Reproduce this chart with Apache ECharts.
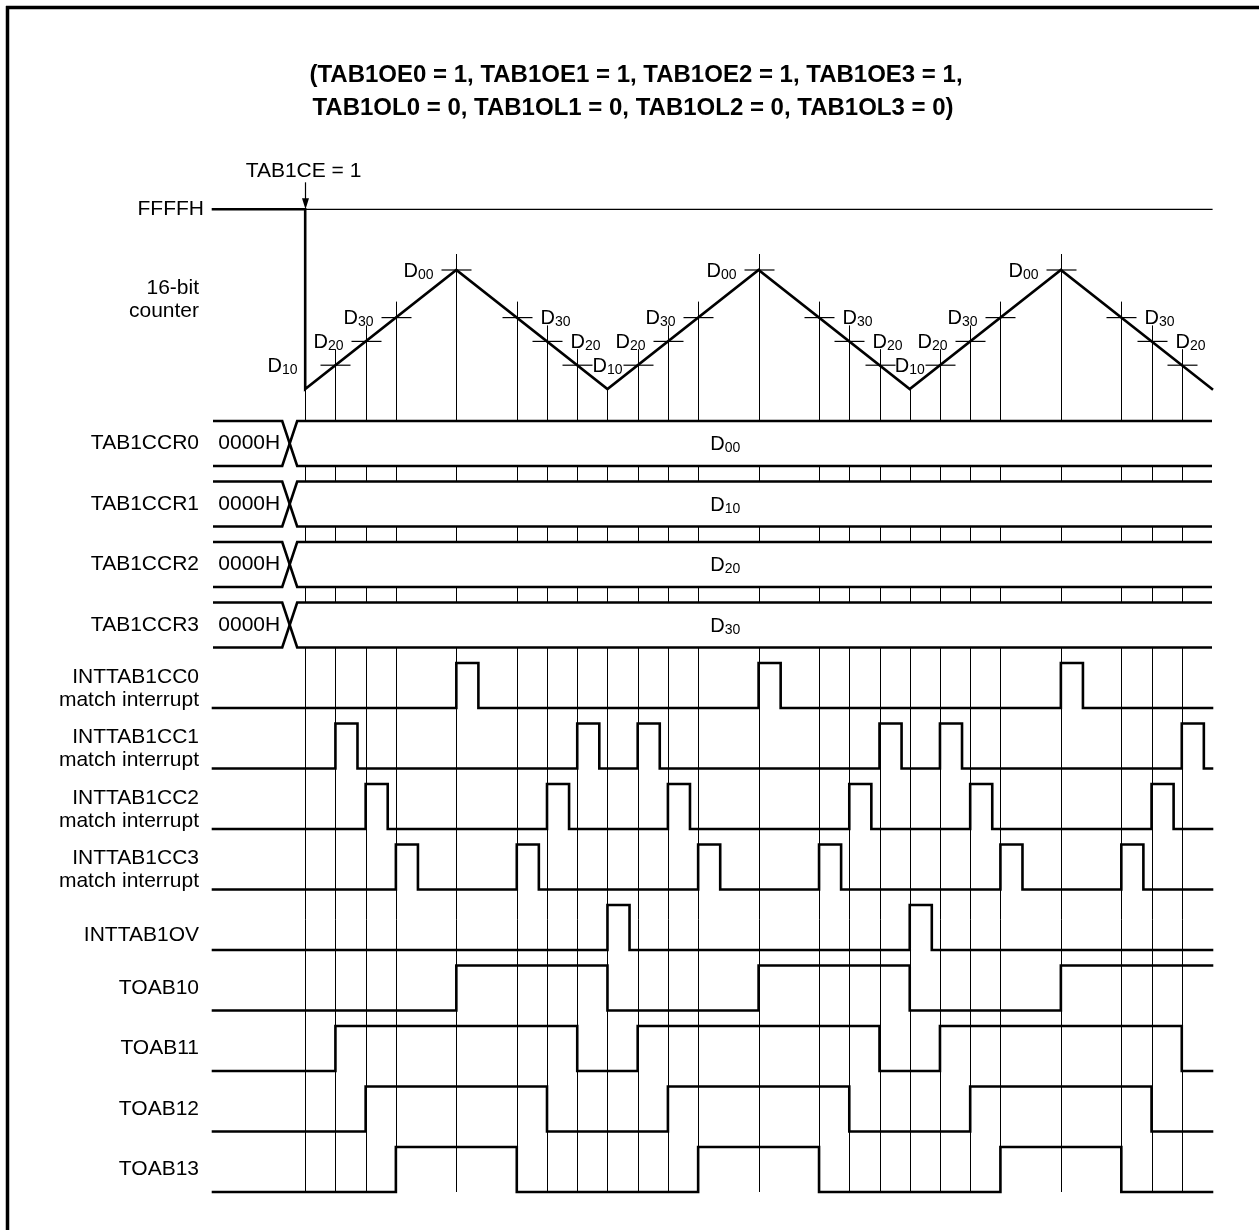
<!DOCTYPE html>
<html><head><meta charset="utf-8">
<script src="https://cdn.jsdelivr.net/npm/echarts@6/dist/echarts.min.js"></script>
<style>html,body{margin:0;padding:0;background:#fff}#c{width:1259px;height:1230px}</style>
</head><body><div id="c"></div>
<script>
// ================= DATA =================
const titleLines = ['(TAB1OE0 = 1, TAB1OE1 = 1, TAB1OE2 = 1, TAB1OE3 = 1,', 'TAB1OL0 = 0, TAB1OL1 = 0, TAB1OL2 = 0, TAB1OL3 = 0)'];
const startLabel = 'TAB1CE = 1';
const counterMaxLabel = 'FFFFH';
const counterLabel = ['16-bit', 'counter'];
// counter triangle vertices: time units, counter level (D10=1, D20=2, D30=3, D00=5)
const counterT = [0, 5, 10, 15, 20, 25, 30];
const counterV = [0, 5, 0, 5, 0, 5, 0];
const counterFFFF = 7.55;
const regLevel = { '00': 5, '10': 1, '20': 2, '30': 3 };
const matchT   = [1, 2, 3, 5, 7, 8, 9, 11, 12, 13, 15, 17, 18, 19, 21, 22, 23, 25, 27, 28, 29];
const matchReg = ['10','20','30','00','30','20','10','10','20','30','00','30','20','10','10','20','30','00','30','20','10'];
const matchLabelSide = ['far','L','L','L','R','R','mid','none','L','L','L','R','R','mid','none','L','L','L','R','R','none'];
const underflowT = [10, 20];
const registerNames = ['TAB1CCR0', 'TAB1CCR1', 'TAB1CCR2', 'TAB1CCR3'];
const registerInit = '0000H';
const registerValues = ['00', '10', '20', '30'];
const signalNames = [
  ['INTTAB1CC0', 'match interrupt'],
  ['INTTAB1CC1', 'match interrupt'],
  ['INTTAB1CC2', 'match interrupt'],
  ['INTTAB1CC3', 'match interrupt'],
  ['INTTAB1OV'],
  ['TOAB10'], ['TOAB11'], ['TOAB12'], ['TOAB13']
];
const cc0Pulses = [5, 15, 25];
const cc1Pulses = [1, 9, 11, 19, 21, 29];
const cc2Pulses = [2, 8, 12, 18, 22, 28];
const cc3Pulses = [3, 7, 13, 17, 23, 27];
const ovPulses  = [10, 20];
const toab10Edges = [5, 10, 15, 20, 25];
const toab11Edges = [1, 9, 11, 19, 21, 29];
const toab12Edges = [2, 8, 12, 18, 22, 28];
const toab13Edges = [3, 7, 13, 17, 23, 27];

// ================= LAYOUT =================
const T_MIN = -3.05, T_MAX = 30;
const FONT = "'Liberation Sans', Arial, Helvetica, sans-serif";
const FS = 21;
const CNT0 = 389, CNT_K = 23.8;          // counter level -> layout y
const BUS_TOP0 = 421, BUS_H = 45, PITCH = 60.5;
const SIG_BASE0 = 708, SIG_H = 45;
const PW = 0.73;                          // interrupt pulse width (time units)
const BUS_XA = -0.76, BUS_XB = -0.265;
const cy = v => CNT0 - v * CNT_K;
const busTop = i => BUS_TOP0 + i * PITCH;
const sigBase = j => SIG_BASE0 + j * PITCH;
const BOTTOM = sigBase(8);

function pulseWave(pulses, row) {
  const b = sigBase(row), h = b - SIG_H, pts = [[T_MIN, b]];
  pulses.forEach(p => { pts.push([p, b], [p, h], [p + PW, h], [p + PW, b]); });
  pts.push([T_MAX, b]);
  return pts;
}
function edgeWave(edges, row) {
  const b = sigBase(row), h = b - SIG_H;
  let lv = b; const pts = [[T_MIN, b]];
  edges.forEach(e => { const n = lv === b ? h : b; pts.push([e, lv], [e, n]); lv = n; });
  pts.push([T_MAX, lv]);
  return pts;
}
function lineSeries(data, width) {
  return { type: 'line', data, symbol: 'none', silent: true, animation: false, z: 5,
    lineStyle: { color: '#000', width: width || 2.6, cap: 'square', join: 'miter' } };
}
const rich = {
  d: { fontFamily: FONT, fontSize: 20, color: '#000', lineHeight: 22 },
  s: { fontFamily: FONT, fontSize: 14, color: '#000', lineHeight: 14, verticalAlign: 'bottom' }
};
const dText = r => '{d|D}{s|' + r + '}';

// counter polyline: thick FFFF segment, drop at start, triangle
const counterData = [[T_MIN, cy(counterFFFF)], [0, cy(counterFFFF)]].concat(counterT.map((t, i) => [t, cy(counterV[i])]));

// vertical guide lines
const vItems = [[0, CNT0]].concat(matchT.map((t, i) => [t, cy(regLevel[matchReg[i]]) - 16])).concat(underflowT.map(t => [t, CNT0]));
const gaps = [];
for (let i = 0; i < 4; i++) gaps.push([busTop(i), busTop(i) + BUS_H]);

const series = [
  // vertical thin lines
  { type: 'custom', silent: true, animation: false, z: 1, data: vItems,
    renderItem(params, api) {
      const t = api.value(0), y0 = api.value(1);
      const ys = [y0];
      gaps.forEach(g => { ys.push(g[0], g[1]); });
      ys.push(BOTTOM);
      const ch = [];
      for (let k = 0; k < ys.length; k += 2) {
        const a = api.coord([t, ys[k]]), b = api.coord([t, ys[k + 1]]);
        ch.push({ type: 'line', shape: { x1: Math.round(a[0]) + 0.5, y1: a[1], x2: Math.round(a[0]) + 0.5, y2: b[1] }, style: { stroke: '#000', lineWidth: 1 } });
      }
      return { type: 'group', children: ch };
    } },
  // FFFFH thin line
  lineSeries([[0, cy(counterFFFF)], [T_MAX, cy(counterFFFF)]], 1.2),
  // counter
  lineSeries(counterData, 2.6),
  // match crosses + labels
  { type: 'custom', silent: true, animation: false, z: 6,
    data: matchT.map((t, i) => [t, regLevel[matchReg[i]], i]),
    renderItem(params, api) {
      const t = api.value(0), lv = api.value(1), i = api.value(2);
      const p = api.coord([t, cy(lv)]);
      const px = Math.round(p[0]) + 0.5;
      const ch = [{ type: 'line', shape: { x1: px - 15, y1: p[1], x2: px + 15, y2: p[1] }, style: { stroke: '#000', lineWidth: 1.2 } }];
      const side = matchLabelSide[i];
      if (side !== 'none') {
        let x = px, align = 'center';
        if (side === 'L') { x = px - 23; align = 'right'; }
        else if (side === 'far') { x = px - 38; align = 'right'; }
        else if (side === 'R') { x = px + 23; align = 'left'; }
        else if (side === 'mid') { x = api.coord([t + 1, 0])[0]; align = 'center'; }
        ch.push({ type: 'text', style: { x, y: p[1] + 1, text: dText(matchReg[i]), rich, align, verticalAlign: 'middle', fill: '#000' } });
      }
      return { type: 'group', children: ch };
    } },
  // start arrow
  { type: 'custom', silent: true, animation: false, z: 6, data: [[0, cy(counterFFFF)]],
    renderItem(params, api) {
      const p = api.coord([api.value(0), api.value(1)]);
      const x = Math.round(p[0]) + 0.5;
      return { type: 'group', children: [
        { type: 'line', shape: { x1: x, y1: p[1] - 27, x2: x, y2: p[1] - 9 }, style: { stroke: '#000', lineWidth: 1.2 } },
        { type: 'polygon', shape: { points: [[x - 3.5, p[1] - 11], [x + 3.5, p[1] - 11], [x, p[1]]] }, style: { fill: '#000' } },
        { type: 'text', style: { x: x - 2, y: p[1] - 38, text: startLabel, font: FS + 'px ' + FONT, align: 'center', verticalAlign: 'middle', fill: '#000' } }
      ] };
    } },
  // register buses
  { type: 'custom', silent: true, animation: false, z: 6, data: registerNames.map((n, i) => [i]),
    renderItem(params, api) {
      const i = api.value(0), top = busTop(i), bot = top + BUS_H;
      const c = (t, y) => api.coord([t, y]);
      const st = { stroke: '#000', lineWidth: 2.6, fill: null };
      const mid = top + BUS_H / 2;
      return { type: 'group', children: [
        { type: 'polyline', shape: { points: [c(T_MIN, top), c(BUS_XA, top), c(BUS_XB, bot), c(T_MAX, bot)] }, style: st },
        { type: 'polyline', shape: { points: [c(T_MIN, bot), c(BUS_XA, bot), c(BUS_XB, top), c(T_MAX, top)] }, style: st },
        { type: 'text', style: { x: c(-1.85, mid)[0], y: c(0, mid)[1], text: registerInit, font: FS + 'px ' + FONT, align: 'center', verticalAlign: 'middle', fill: '#000' } },
        { type: 'text', style: { x: c(13.9, mid)[0], y: c(0, mid)[1] + 1, text: dText(registerValues[i]), rich, align: 'center', verticalAlign: 'middle' } }
      ] };
    } },
  lineSeries(pulseWave(cc0Pulses, 0)),
  lineSeries(pulseWave(cc1Pulses, 1)),
  lineSeries(pulseWave(cc2Pulses, 2)),
  lineSeries(pulseWave(cc3Pulses, 3)),
  lineSeries(pulseWave(ovPulses, 4)),
  lineSeries(edgeWave(toab10Edges, 5)),
  lineSeries(edgeWave(toab11Edges, 6)),
  lineSeries(edgeWave(toab12Edges, 7)),
  lineSeries(edgeWave(toab13Edges, 8))
];

// ================= TEXT LABELS (graphic) =================
const LBL_X = 199;
const txt = (x, y, s, font, align) => ({ type: 'text', x, y, silent: true,
  style: { text: s, font: font || (FS + 'px ' + FONT), fill: '#000', align: align || 'right', verticalAlign: 'middle' } });
const graphics = [
  { type: 'line', shape: { x1: 7.5, y1: 6, x2: 7.5, y2: 1230 }, style: { stroke: '#000', lineWidth: 3.5 } },
  { type: 'line', shape: { x1: 6, y1: 7.5, x2: 1259, y2: 7.5 }, style: { stroke: '#000', lineWidth: 3.5 } },
  txt(636, 75, titleLines[0], 'bold 24px ' + FONT, 'center'),
  txt(633, 108, titleLines[1], 'bold 24px ' + FONT, 'center'),
  txt(204, cy(counterFFFF), counterMaxLabel),
  txt(LBL_X, 288, counterLabel[0]),
  txt(LBL_X, 311, counterLabel[1])
];
registerNames.forEach((n, i) => graphics.push(txt(LBL_X, busTop(i) + BUS_H / 2, n)));
signalNames.forEach((n, j) => {
  const b = sigBase(j);
  if (n.length === 2) { graphics.push(txt(LBL_X, b - 31, n[0]), txt(LBL_X, b - 8, n[1])); }
  else if (j === 4) graphics.push(txt(LBL_X, b - 15, n[0]));
  else graphics.push(txt(LBL_X, b - SIG_H / 2, n[0]));
});

const chart = echarts.init(document.getElementById('c'), null, { renderer: 'canvas' });
chart.setOption({
  backgroundColor: '#fff',
  animation: false,
  grid: { left: 213, right: 47, top: 0, bottom: 0, containLabel: false },
  xAxis: { type: 'value', min: T_MIN, max: T_MAX, show: false },
  yAxis: { type: 'value', min: 0, max: 1230, inverse: true, show: false },
  series,
  graphic: graphics
});
</script></body></html>
